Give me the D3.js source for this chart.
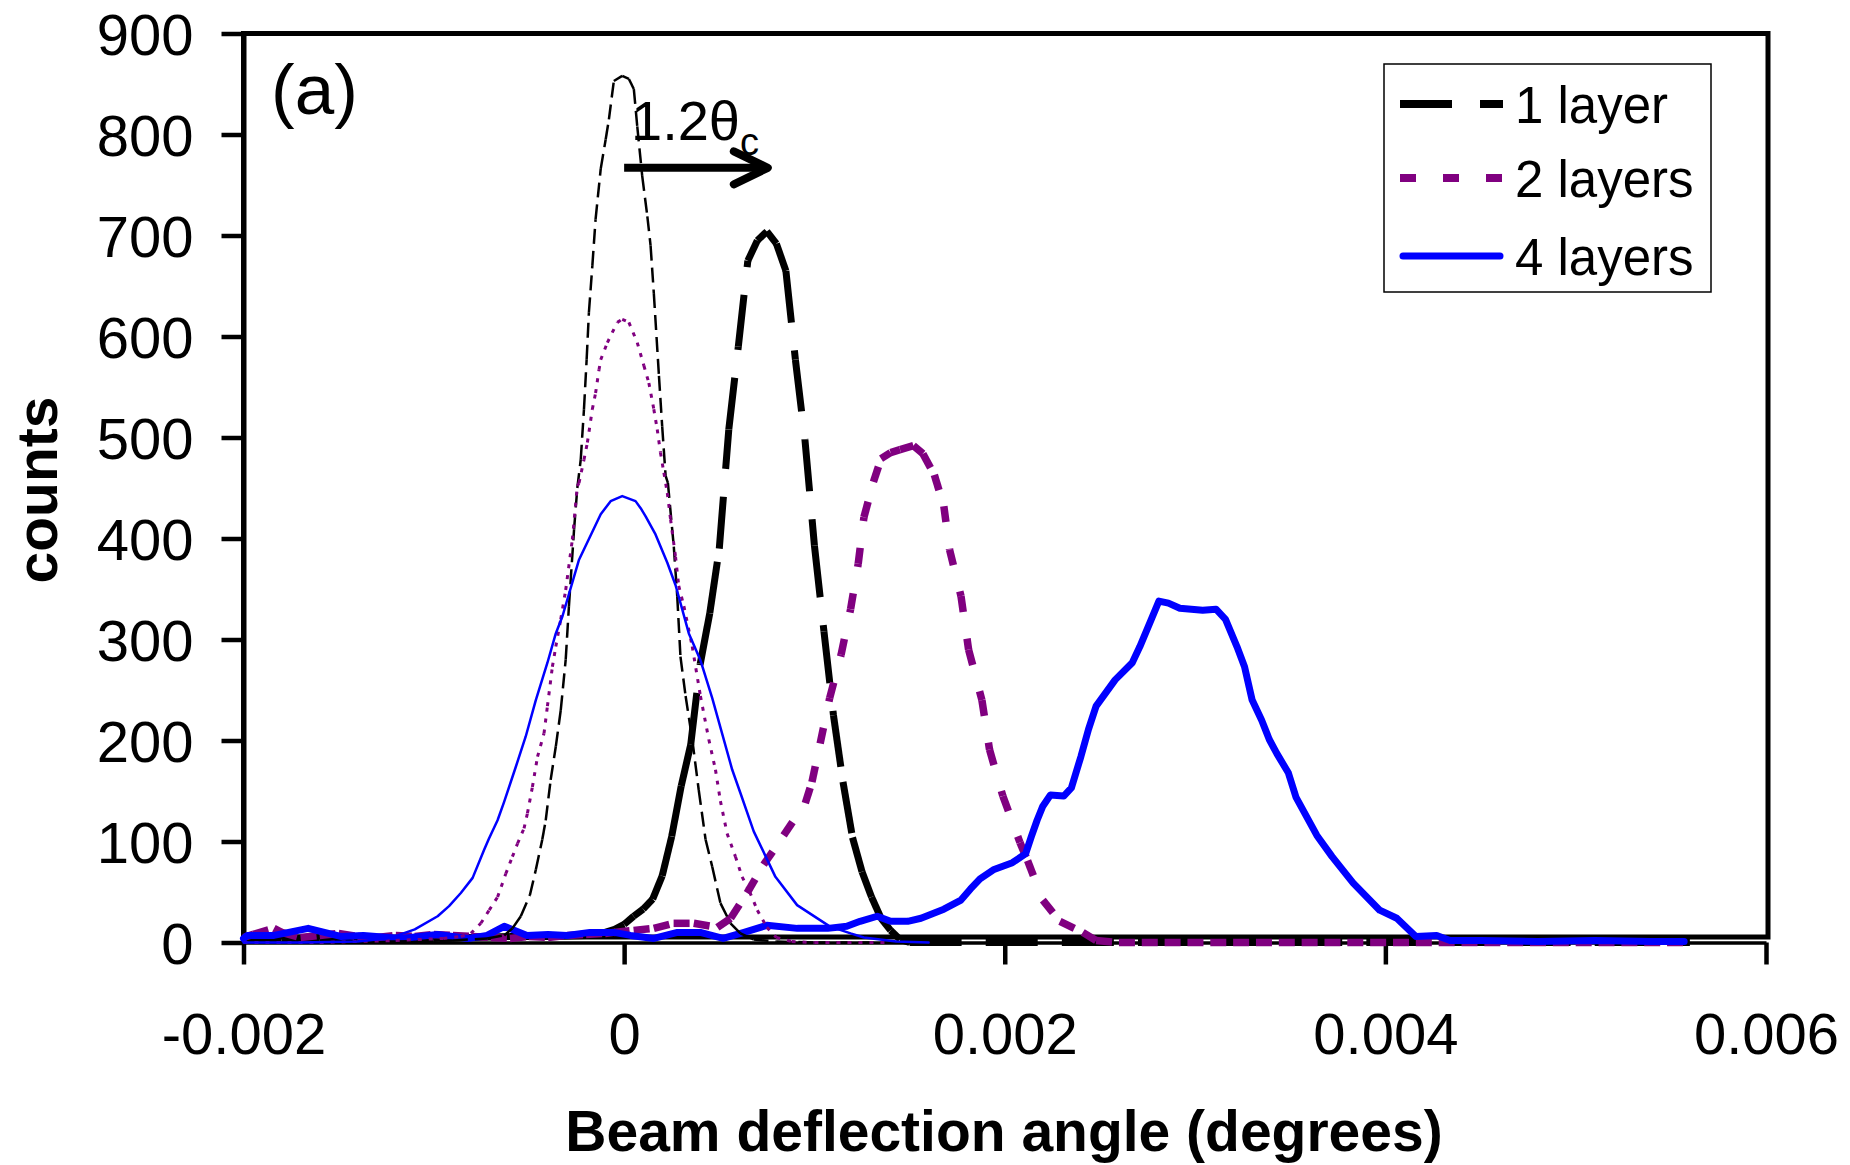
<!DOCTYPE html>
<html><head><meta charset="utf-8">
<script src="https://cdn.jsdelivr.net/npm/d3@7"></script>
<style>body{margin:0;background:#fff}svg{display:block}</style>
</head><body><svg id="c" width="1850" height="1165"></svg>
<script>
// ---------- data ----------
const xTicks = [-0.002, 0, 0.002, 0.004, 0.006];
const yTicks = [0, 100, 200, 300, 400, 500, 600, 700, 800, 900];
const legendLabels = ["1 layer", "2 layers", "4 layers"];
const xTitle = "Beam deflection angle (degrees)";
const yTitle = "counts";

// thick series
const oneLayer = [[-0.0020,3],[-0.0018,4],[-0.0016,5],[-0.0014,2],[-0.0012,3],[-0.0010,4],[-0.0008,5],[-0.0006,6],[-0.0004,6],[-0.0002,7],[-0.0001,10],[-0.00005,13],[0,18],[0.00005,26],[0.0001,33],[0.00015,43],[0.0002,66],[0.00025,105],[0.0003,155],[0.00035,196],[0.0004,276],[0.00045,326],[0.0005,390],[0.00055,508],[0.0006,590],[0.00065,675],[0.0007,695],[0.00075,704],[0.0008,692],[0.00085,665],[0.0009,577],[0.00095,498],[0.001,393],[0.00105,308],[0.0011,225],[0.00115,159],[0.0012,104],[0.00125,70],[0.0013,45],[0.00135,24],[0.0014,12],[0.00145,3],[0.0015,0],[0.0019,0],[0.0023,0],[0.0027,0],[0.0031,0],[0.0035,0],[0.0039,0],[0.0043,0],[0.0047,0],[0.0051,0],[0.0056,0]];

const twoLayers = [[-0.0020,5],[-0.00195,8],[-0.00184,14],[-0.0018,10],[-0.0017,5],[-0.0016,7],[-0.0015,9],[-0.0014,6],[-0.0013,5],[-0.0012,7],[-0.0011,6],[-0.0010,8],[-0.0009,7],[-0.0008,6],[-0.0007,5],[-0.0006,4],[-0.0005,6],[-0.0004,5],[-0.0003,7],[-0.0002,8],[-0.0001,9],[-0.000055,10],[0.00005,12],[0.000156,14],[0.00026,19],[0.000366,19],[0.00049,15],[0.00056,24],[0.000646,49],[0.000733,77],[0.000838,106],[0.000952,138],[0.000987,159],[0.00103,197],[0.00108,242],[0.00114,285],[0.00119,330],[0.00123,375],[0.00126,421],[0.00131,456],[0.00135,479],[0.0014,485],[0.00145,488],[0.00152,492],[0.00157,484],[0.00163,463],[0.00168,432],[0.00171,389],[0.00177,343],[0.00181,290],[0.00188,240],[0.00192,191],[0.00199,145],[0.00208,99],[0.00212,81],[0.0022,42],[0.00229,21],[0.00241,10],[0.00248,2],[0.0026,0],[0.00272,0],[0.00284,0],[0.00296,0],[0.00308,0],[0.0032,0],[0.00332,0],[0.00344,0],[0.00356,0],[0.00368,0],[0.0038,0],[0.00392,0],[0.00404,0],[0.00416,0],[0.00428,0],[0.0044,0],[0.00452,0],[0.00464,0],[0.00476,0],[0.00488,0],[0.005,0],[0.00512,0],[0.00524,0],[0.00536,0],[0.00548,0],[0.0056,0]];

const fourLayers = [[-0.0020,4],[-0.00198,7],[-0.00184,7],[-0.00166,14],[-0.00149,6],[-0.00137,7],[-0.00117,4],[-0.00098,8],[-0.00082,4],[-0.00072,7],[-0.00063,16],[-0.00051,7],[-0.0004,8],[-0.0003,7],[-0.00018,10],[-0.000054,10],[0.000034,7],[0.000156,4],[0.00028,10],[0.0004,10],[0.00052,4],[0.00063,10],[0.00075,17],[0.00091,14],[0.00107,14],[0.00117,16],[0.00124,21],[0.00133,26],[0.0014,21],[0.00149,21],[0.00156,24],[0.00168,33],[0.00177,42],[0.00182,53],[0.00187,63],[0.00194,72],[0.00204,79],[0.00211,88],[0.00214,105],[0.00217,121],[0.0022,135],[0.00224,146],[0.00231,145],[0.00235,153],[0.0024,184],[0.00244,211],[0.00248,234],[0.00258,260],[0.00267,277],[0.00271,293],[0.00277,320],[0.00281,338],[0.00286,336],[0.00292,331],[0.00304,329],[0.00311,330],[0.00316,320],[0.00322,293],[0.00326,273],[0.0033,240],[0.00335,220],[0.00339,201],[0.00343,187],[0.00349,168],[0.00353,144],[0.00364,106],[0.00372,85],[0.00383,59],[0.00397,32],[0.00406,24],[0.00416,6],[0.00427,7],[0.00434,2],[0.0045,2],[0.0048,1],[0.0051,2],[0.0054,1],[0.00557,1]];

// thin reference series (incident beam)
const refOne = [[-0.002,0],[-0.0016,0],[-0.0012,1],[-0.0009,2],[-0.00072,4],[-0.00063,7],[-0.000587,14],[-0.000543,26],[-0.000495,47],[-0.000464,72],[-0.00043,102],[-0.000412,121],[-0.000386,161],[-0.000359,194],[-0.000333,230],[-0.000307,280],[-0.00029,333],[-0.000263,409],[-0.000246,450],[-0.000228,478],[-0.000211,528],[-0.000197,577],[-0.000185,624],[-0.000167,670],[-0.00015,716],[-0.000123,766],[-0.000097,795],[-0.00008,815],[-0.000054,853],[-0.00001,858],[0.000025,855],[0.000051,845],[0.000069,808],[0.000095,759],[0.000122,719],[0.000139,690],[0.000156,643],[0.000183,561],[0.0002,511],[0.000218,462],[0.00023,455],[0.000261,392],[0.000279,343],[0.000296,283],[0.000323,244],[0.000358,201],[0.000392,151],[0.000428,102],[0.000463,75],[0.000506,39],[0.000559,19],[0.000611,9],[0.00068,3],[0.0008,1],[0.001,0],[0.0014,0]];

const refTwo = [[-0.002,0],[-0.0016,0],[-0.0012,2],[-0.00095,4],[-0.000858,6],[-0.000805,9],[-0.000753,19],[-0.000709,32],[-0.000665,45],[-0.000622,68],[-0.000587,85],[-0.00056,98],[-0.000526,113],[-0.000508,128],[-0.000482,154],[-0.000455,184],[-0.000421,207],[-0.000403,234],[-0.000377,273],[-0.000359,293],[-0.000333,320],[-0.000307,349],[-0.000272,399],[-0.000246,452],[-0.000237,455],[-0.000211,478],[-0.000193,495],[-0.000167,528],[-0.00015,544],[-0.000132,567],[-0.000123,577],[-0.000088,594],[-0.000036,614],[-0.00001,617],[0.000025,614],[0.000069,594],[0.000104,571],[0.00013,554],[0.000156,528],[0.000174,508],[0.000191,485],[0.000209,465],[0.000227,445],[0.000244,419],[0.00027,382],[0.000287,353],[0.000314,333],[0.000358,293],[0.000401,244],[0.000445,201],[0.00048,171],[0.000506,140],[0.000541,108],[0.000585,85],[0.00062,65],[0.00066,50],[0.0007,32],[0.00075,15],[0.0008,5],[0.00088,1],[0.001,0],[0.0014,0]];

const refFour = [[-0.002,0],[-0.0017,0],[-0.0014,1],[-0.00125,4],[-0.00119,7],[-0.0011,13],[-0.00098,26],[-0.00092,36],[-0.000858,49],[-0.000796,64],[-0.000735,92],[-0.00071,103],[-0.000665,121],[-0.000631,139],[-0.000569,174],[-0.000517,204],[-0.000464,240],[-0.000403,277],[-0.000359,306],[-0.000324,323],[-0.000237,379],[-0.000123,424],[-0.000071,437],[-0.00001,442],[0.00006,437],[0.000087,430],[0.000113,422],[0.000165,404],[0.000227,376],[0.00027,354],[0.00034,306],[0.0004,280],[0.000463,242],[0.000568,171],[0.000611,148],[0.000681,110],[0.000795,65],[0.000909,37],[0.00108,16],[0.00119,9],[0.00126,5],[0.00143,1],[0.0016,0]];

// annotation: arrow from incident peak to shifted peak, at this count level
const arrowFrom = [0, 767];
const arrowTo = [0.000755, 767];

// ---------- drawing ----------
const FONT = "'Liberation Sans', Arial, Helvetica, sans-serif";
const svg = d3.select("#c");
svg.append("rect").attr("width",1850).attr("height",1165).attr("fill","#fff");

const x = d3.scaleLinear().domain([-0.002, 0.006]).range([243.5, 1766]);
const y = d3.scaleLinear().domain([0, 900]).range([942.5, 33.5]);

// plot-area border
const bx0 = x(-0.002), by0 = y(900), bx1 = x(0.006) + 2, by1 = y(0) - 5.5;
svg.append("rect").attr("x",bx0).attr("y",by0).attr("width",bx1-bx0).attr("height",by1-by0)
  .attr("fill","none").attr("stroke","#000").attr("stroke-width",5);

// axes
const gy = svg.append("g").attr("transform",`translate(${x(-0.002)},0)`)
  .call(d3.axisLeft(y).tickValues(yTicks).tickSize(22).tickSizeOuter(0).tickPadding(28));
gy.attr("font-family",FONT).attr("font-size",58);
gy.select(".domain").attr("stroke","#000").attr("stroke-width",5);
gy.selectAll(".tick line").attr("stroke","#000").attr("stroke-width",4.5);
gy.selectAll(".tick text").attr("fill","#000").attr("dy","0.36em");

const fmt = d => d === 0 ? "0" : d.toFixed(3);
const gx = svg.append("g").attr("transform",`translate(0,${y(0)})`)
  .call(d3.axisBottom(x).tickValues(xTicks).tickSize(22).tickSizeOuter(0).tickPadding(48).tickFormat(fmt));
gx.attr("font-family",FONT).attr("font-size",58);
gx.select(".domain").attr("stroke","#000").attr("stroke-width",3.5);
gx.selectAll(".tick line").attr("stroke","#000").attr("stroke-width",4.5);
gx.selectAll(".tick text").attr("fill","#000");

// titles
svg.append("text").attr("x",1004).attr("y",1151).attr("text-anchor","middle")
  .attr("font-family",FONT).attr("font-weight","bold").attr("font-size",57).text(xTitle);
svg.append("text").attr("transform","translate(57,490) rotate(-90)").attr("text-anchor","middle")
  .attr("font-family",FONT).attr("font-weight","bold").attr("font-size",57).text(yTitle);

// series helpers: Excel-style dash restart on every segment
function segSeries(data, color, width, dash) {
  const pts = data.map(d => [x(d[0]), y(d[1])]);
  svg.append("g").selectAll("line").data(d3.pairs(pts)).join("line")
    .attr("x1", d => d[0][0]).attr("y1", d => d[0][1])
    .attr("x2", d => d[1][0]).attr("y2", d => d[1][1])
    .attr("stroke", color).attr("stroke-width", width)
    .attr("stroke-dasharray", dash).attr("stroke-linecap","butt");
}
function solidSeries(data, color, width) {
  svg.append("path").datum(data)
    .attr("d", d3.line().x(d => x(d[0])).y(d => y(d[1])))
    .attr("fill","none").attr("stroke",color).attr("stroke-width",width)
    .attr("stroke-linejoin","round").attr("stroke-linecap","round");
}

const C1 = "#000000", C2 = "#800080", C4 = "#0000ff";
segSeries(oneLayer, C1, 7, "52,28");
segSeries(twoLayers, C2, 7.5, "16,27");
solidSeries(fourLayers, C4, 7);
segSeries(refOne, C1, 2.5, "15,7");
segSeries(refTwo, C2, 3, "4,7");
solidSeries(refFour, C4, 2.5);

// annotations
svg.append("text").attr("x",271).attr("y",114).attr("font-family",FONT).attr("font-size",71).text("(a)");
const lab = svg.append("text").attr("x",631).attr("y",140).attr("font-family",FONT).attr("font-size",56);
lab.append("tspan").text("1.2θ");
lab.append("tspan").attr("font-size",38).attr("dy",15).text("c");

const ax0 = x(arrowFrom[0]), ax1 = x(arrowTo[0]), ay = y(arrowFrom[1]);
svg.append("line").attr("x1",ax0).attr("y1",ay).attr("x2",ax1-4).attr("y2",ay)
  .attr("stroke","#000").attr("stroke-width",8);
svg.append("path").attr("d",`M${ax1-34},${ay-16.5}L${ax1},${ay}L${ax1-34},${ay+16.5}`)
  .attr("fill","none").attr("stroke","#000").attr("stroke-width",8)
  .attr("stroke-linecap","round").attr("stroke-linejoin","round");

// legend
const lg = svg.append("g");
lg.append("rect").attr("x",1384).attr("y",64).attr("width",327).attr("height",228)
  .attr("fill","#fff").attr("stroke","#000").attr("stroke-width",1.5);
const legStyles = [
  {c:C1, w:8, dash:"52,28", cap:"butt"},
  {c:C2, w:8, dash:"16,27", cap:"butt"},
  {c:C4, w:7, dash:null, cap:"round"}
];
const rowY = [104, 178, 256];
legendLabels.forEach((t,i) => {
  const s = legStyles[i];
  const ln = lg.append("line").attr("x1",1400).attr("x2",1503).attr("y1",rowY[i]).attr("y2",rowY[i])
    .attr("stroke",s.c).attr("stroke-width",s.w).attr("stroke-linecap",s.cap);
  if (s.dash) ln.attr("stroke-dasharray",s.dash);
  if (s.cap==="round") ln.attr("x1",1403).attr("x2",1500);
  lg.append("text").attr("x",1515).attr("y",rowY[i]+19).attr("font-family",FONT)
    .attr("font-size",51).attr("fill","#000").text(t);
});
</script></body></html>
